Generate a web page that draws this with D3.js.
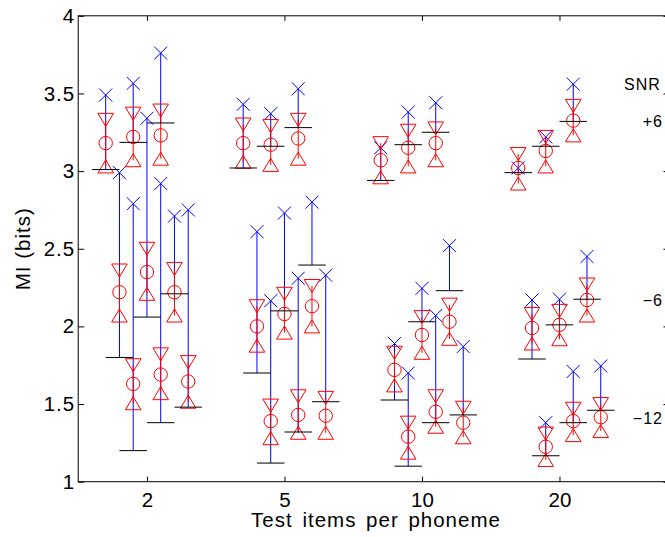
<!DOCTYPE html>
<html>
<head>
<meta charset="utf-8">
<script src="https://cdn.jsdelivr.net/npm/d3@7"></script>
<style>
  body { margin: 0; background: #fff; }
  text { font-family: "Liberation Sans", Arial, Helvetica, sans-serif; }
</style>
</head>
<body>
<div class="chart"></div>
<script>
// tick labels / categories
const categories = ["2", "5", "10", "20"];
const yTicks = [1, 1.5, 2, 2.5, 3, 3.5, 4];
const snrLabels = ["SNR", "+6", "\u22126", "\u221212"];
const snrLabelVals = [3.56, 3.32, 2.17, 1.41];

// values per SNR: [category][condition]
// cross = blue x, upper = down triangle, mean = circle, lower = up triangle, bar = black line
const p6Cross = [[3.49, 3.565, 3.76], [3.43, 3.37, 3.53], [3.15, 3.38, 3.44], [3.02, 3.22, 3.56]];
const p6Upper = [[3.33, 3.37, 3.39], [3.30, 3.29, 3.33], [3.18, 3.26, 3.275], [3.11, 3.22, 3.42]];
const p6Mean  = [[3.18, 3.22, 3.23], [3.18, 3.17, 3.21], [3.07, 3.15, 3.18], [3.02, 3.13, 3.325]];
const p6Lower = [[3.03, 3.07, 3.08], [3.06, 3.04, 3.08], [2.96, 3.03, 3.07], [2.92, 3.03, 3.23]];
const p6Bar   = [[3.01, 3.185, 3.31], [3.02, 3.16, 3.28], [2.94, 3.17, 3.25], [2.99, 3.16, 3.32]];

const m6Cross = [[2.99, 3.34, 2.71], [2.61, 2.73, 2.80], [1.89, 2.245, 2.52], [2.17, 2.175, 2.45]];
const m6Upper = [[2.36, 2.50, 2.37], [2.13, 2.21, 2.26], [1.83, 2.06, 2.14], [2.08, 2.10, 2.27]];
const m6Mean  = [[2.22, 2.35, 2.22], [2.00, 2.08, 2.13], [1.72, 1.945, 2.03], [1.99, 2.01, 2.17]];
const m6Lower = [[2.07, 2.21, 2.07], [1.876, 1.96, 2.00], [1.62, 1.83, 1.92], [1.89, 1.917, 2.07]];
const m6Bar   = [[1.80, 2.06, 2.21], [1.70, 2.10, 2.395], [1.526, 2.03, 2.23], [1.79, 2.01, 2.175]];

const m12Cross = [[2.79, 2.92, 2.75], [2.165, 2.31, 2.33], [1.70, 2.07, 1.87], [1.38, 1.71, 1.745]];
const m12Upper = [[1.75, 1.82, 1.77], [1.49, 1.55, 1.54], [1.38, 1.55, 1.476], [1.31, 1.47, 1.50]];
const m12Mean  = [[1.63, 1.69, 1.645], [1.39, 1.43, 1.425], [1.29, 1.45, 1.38], [1.225, 1.39, 1.415]];
const m12Lower = [[1.505, 1.57, 1.515], [1.28, 1.315, 1.315], [1.187, 1.354, 1.286], [1.14, 1.30, 1.326]];
const m12Bar   = [[1.20, 1.38, 1.48], [1.12, 1.32, 1.515], [1.10, 1.38, 1.43], [1.167, 1.38, 1.46]];

const snrSets = [
  [p6Cross, p6Upper, p6Mean, p6Lower, p6Bar],
  [m6Cross, m6Upper, m6Mean, m6Lower, m6Bar],
  [m12Cross, m12Upper, m12Mean, m12Lower, m12Bar]
];

// flatten into rows
const rows = [];
snrSets.forEach((set, k) => {
  categories.forEach((c, i) => {
    for (let j = 0; j < 3; j++) {
      rows.push({
        pos: i + 1 - 0.3 + 0.2 * j + 0.1 * k,
        cross: set[0][i][j], upper: set[1][i][j], mean: set[2][i][j],
        lower: set[3][i][j], bar: set[4][i][j]
      });
    }
  });
});

const width = 665, height = 537;
const svg = d3.select(".chart").append("svg")
  .attr("width", width)
  .attr("height", height);

const xScale = d3.scaleLinear().domain([0.5, 4.8]).range([78.2, 669.5]);
const yScale = d3.scaleLinear().domain([1, 4]).range([481.7, 15.8]);

// axes
const fs = 20.5;
svg.append("g")
  .attr("transform", `translate(${xScale(0.5)},0)`)
  .call(d3.axisLeft(yScale).tickValues(yTicks).tickSizeInner(-6).tickSizeOuter(0).tickPadding(3).tickFormat(d => d))
  .call(g => g.select(".domain").remove())
  .call(g => g.selectAll("text").attr("font-size", fs).attr("fill", "#000")
    .attr("letter-spacing", 1).attr("font-family", "Liberation Sans, Arial"));

svg.append("g")
  .attr("transform", `translate(${xScale(4.8)},0)`)
  .call(d3.axisRight(yScale).tickValues(yTicks).tickSizeInner(-6).tickSizeOuter(0).tickFormat(""))
  .call(g => g.select(".domain").remove());

svg.append("g")
  .attr("transform", `translate(0,${yScale(1)})`)
  .call(d3.axisBottom(xScale).tickValues([1, 2, 3, 4]).tickSizeInner(-5).tickSizeOuter(0).tickPadding(10.5)
    .tickFormat(d => categories[d - 1]))
  .call(g => g.select(".domain").remove())
  .call(g => g.selectAll("text").attr("font-size", fs).attr("fill", "#000").attr("font-family", "Liberation Sans, Arial"));

svg.append("g")
  .attr("transform", `translate(0,${yScale(4)})`)
  .call(d3.axisTop(xScale).tickValues([1, 2, 3, 4]).tickSizeInner(-5).tickSizeOuter(0).tickFormat(""))
  .call(g => g.select(".domain").remove());

// frame
svg.append("rect")
  .attr("x", xScale(0.5)).attr("y", yScale(4))
  .attr("width", xScale(4.8) - xScale(0.5))
  .attr("height", yScale(1) - yScale(4))
  .attr("fill", "none").attr("stroke", "#000").attr("stroke-width", 1);

const plot = svg.append("g");

// blue lines: cross down to black bar
plot.selectAll(".blue-line").data(rows).enter().append("line")
  .attr("x1", d => xScale(d.pos)).attr("x2", d => xScale(d.pos))
  .attr("y1", d => yScale(d.cross)).attr("y2", d => yScale(d.bar))
  .attr("stroke", "#0000ff").attr("stroke-width", 1);

// blue crosses
const xs = 6.5;
plot.selectAll(".cross").data(rows).enter().append("path")
  .attr("d", d => {
    const cx = xScale(d.pos), cy = yScale(d.cross);
    return `M${cx - xs},${cy - xs}L${cx + xs},${cy + xs}M${cx - xs},${cy + xs}L${cx + xs},${cy - xs}`;
  })
  .attr("fill", "none").attr("stroke", "#0000ff").attr("stroke-width", 1);

// red lines
plot.selectAll(".red-line").data(rows).enter().append("line")
  .attr("x1", d => xScale(d.pos)).attr("x2", d => xScale(d.pos))
  .attr("y1", d => yScale(d.upper)).attr("y2", d => yScale(d.lower))
  .attr("stroke", "#ff0000").attr("stroke-width", 1);

// red markers
const tw = 7.8, th = 6.5;
plot.selectAll(".tri-down").data(rows).enter().append("path")
  .attr("d", d => {
    const cx = xScale(d.pos), cy = yScale(d.upper);
    return `M${cx - tw},${cy - th}L${cx + tw},${cy - th}L${cx},${cy + th}Z`;
  })
  .attr("fill", "none").attr("stroke", "#ff0000").attr("stroke-width", 1);

plot.selectAll(".tri-up").data(rows).enter().append("path")
  .attr("d", d => {
    const cx = xScale(d.pos), cy = yScale(d.lower);
    return `M${cx - tw},${cy + th}L${cx + tw},${cy + th}L${cx},${cy - th}Z`;
  })
  .attr("fill", "none").attr("stroke", "#ff0000").attr("stroke-width", 1);

plot.selectAll(".mean").data(rows).enter().append("circle")
  .attr("cx", d => xScale(d.pos)).attr("cy", d => yScale(d.mean))
  .attr("r", 6.7)
  .attr("fill", "none").attr("stroke", "#ff0000").attr("stroke-width", 1);

// black bars
plot.selectAll(".bar").data(rows).enter().append("line")
  .attr("x1", d => xScale(d.pos - 0.1)).attr("x2", d => xScale(d.pos + 0.1))
  .attr("y1", d => yScale(d.bar)).attr("y2", d => yScale(d.bar))
  .attr("stroke", "#000").attr("stroke-width", 1);

// SNR labels
svg.selectAll(".snr").data(snrLabels).enter().append("text")
  .attr("x", (d, i) => i === 0 ? 624 : 663)
  .attr("y", (d, i) => yScale(snrLabelVals[i]))
  .attr("dy", "0.36em")
  .attr("text-anchor", (d, i) => i === 0 ? "start" : "end")
  .attr("font-size", 16)
  .attr("letter-spacing", 1)
  .text(d => d);

// axis titles
svg.append("text")
  .attr("x", 376).attr("y", 527)
  .attr("text-anchor", "middle")
  .attr("font-size", fs)
  .attr("letter-spacing", 1)
  .attr("word-spacing", 3)
  .text("Test items per phoneme");

svg.append("text")
  .attr("transform", `translate(30,${(yScale(1) + yScale(4)) / 2}) rotate(-90)`)
  .attr("text-anchor", "middle")
  .attr("font-size", fs)
  .attr("letter-spacing", 1)
  .text("MI (bits)");
</script>
</body>
</html>
